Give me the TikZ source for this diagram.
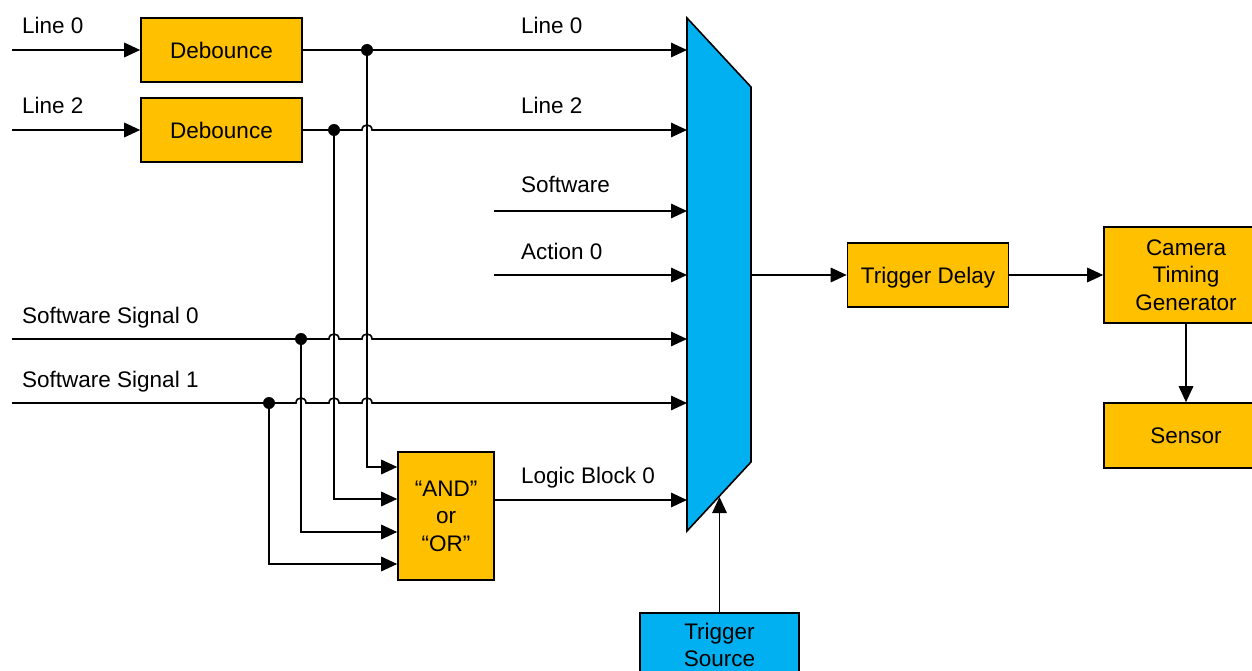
\documentclass[tikz,border=0pt]{standalone}
\usepackage{fontspec}
\setmainfont{Liberation Sans}
\usetikzlibrary{arrows.meta}
\definecolor{boxorange}{HTML}{FFC000}
\definecolor{muxblue}{HTML}{00B0F0}
\begin{document}
\begin{tikzpicture}[x=1pt,y=-1pt,
  every node/.style={font=\fontsize{22.5}{27.5}\selectfont},
  wire/.style={line width=1.6pt},
  arr/.style={wire,-{Triangle[length=16pt,width=14.5pt]}},
  obox/.style={draw,line width=1.6pt,fill=boxorange,align=center,inner sep=0pt},
  bbox/.style={draw,line width=1.6pt,fill=muxblue,align=center,inner sep=0pt},
  lbl/.style={anchor=base west,inner sep=0pt},
  dot/.style={circle,fill=black,inner sep=0pt,minimum size=12pt}]
\useasboundingbox (0,0) rectangle (1252,671);
\clip (0,0) rectangle (1252,671);

% boxes
\node[obox,minimum width=161pt,minimum height=64pt] (deb1) at (221.5,50) {Debounce};
\node[obox,minimum width=161pt,minimum height=64pt] (deb2) at (221.5,130) {Debounce};
\node[obox,minimum width=96pt,minimum height=128pt] (logic) at (446,516) {“AND”\\or\\“OR”};
\node[obox,minimum width=161pt,minimum height=64pt,text depth=0pt] (delay) at (928,275) {Trigger Delay};
\node[obox,minimum width=164pt,minimum height=96pt] (ctg) at (1186,275) {Camera\\Timing\\Generator};
\node[obox,minimum width=164pt,minimum height=65pt] (sensor) at (1186,435.5) {Sensor};
\node[bbox,minimum width=159pt,minimum height=64pt] (tsrc) at (719.5,645) {Trigger\\Source};

% multiplexer
\draw[line width=1.6pt,fill=muxblue,line join=miter] (687,18) -- (751,87) -- (751,462) -- (687,531) -- cycle;
\coordinate (m0) at (687,50);
\coordinate (m2) at (687,130);
\coordinate (msw) at (687,211);
\coordinate (mact) at (687,275);
\coordinate (ms0) at (687,339);
\coordinate (ms1) at (687,403);
\coordinate (mlb) at (687,500);
\coordinate (mout) at (751,275);
\coordinate (msel) at (719.5,497);

% inputs
\coordinate (in0) at (12,50);
\coordinate (in2) at (12,130);
\coordinate (isw) at (494,211);
\coordinate (iact) at (494,275);
\coordinate (is0) at (12,339);
\coordinate (is1) at (12,403);

% junctions
\node[dot] (j0) at (367,50) {};
\node[dot] (j2) at (334,130) {};
\node[dot] (js0) at (301,339) {};
\node[dot] (js1) at (269,403) {};

% labels
\node[lbl] (t1) at (22,34) {Line 0};
\node[lbl] (t2) at (22,114) {Line 2};
\node[lbl] (t3) at (22,323) {Software Signal 0};
\node[lbl] (t4) at (22,387) {Software Signal 1};
\node[lbl] (t5) at (521,34) {Line 0};
\node[lbl] (t6) at (521,114) {Line 2};
\node[lbl] (t7) at (521,193) {Software};
\node[lbl] (t8) at (521,259) {Action 0};
\node[lbl] (t9) at (521,483) {Logic Block 0};

% connectors
\draw[arr] (in0) -- (deb1.west);
\draw[arr] (in2) -- (deb2.west);
\draw[arr] (deb1.east) -- (m0);
\draw[arr] (deb2.east) -- (362,130) .. controls (362,123.3) and (372,123.3) .. (372,130) -- (m2);
\draw[arr] (isw) -- (msw);
\draw[arr] (iact) -- (mact);
\draw[arr] (is0) -- (329,339) .. controls (329,332.3) and (339,332.3) .. (339,339)
  -- (362,339) .. controls (362,332.3) and (372,332.3) .. (372,339) -- (ms0);
\draw[arr] (is1) -- (296,403) .. controls (296,396.3) and (306,396.3) .. (306,403)
  -- (329,403) .. controls (329,396.3) and (339,396.3) .. (339,403)
  -- (362,403) .. controls (362,396.3) and (372,396.3) .. (372,403) -- (ms1);

\draw[arr] (j0.center) |- ([yshift=49pt]logic.west);
\draw[arr] (j2.center) |- ([yshift=17pt]logic.west);
\draw[arr] (js0.center) |- ([yshift=-16pt]logic.west);
\draw[arr] (js1.center) |- ([yshift=-48pt]logic.west);

\draw[arr] ([yshift=16pt]logic.east) -- (mlb);
\draw[arr] (tsrc.north) -- (msel);
\draw[arr] (mout) -- (delay.west);
\draw[arr] (delay.east) -- (ctg.west);
\draw[arr] (ctg.south) -- (sensor.north);
\end{tikzpicture}
\end{document}
